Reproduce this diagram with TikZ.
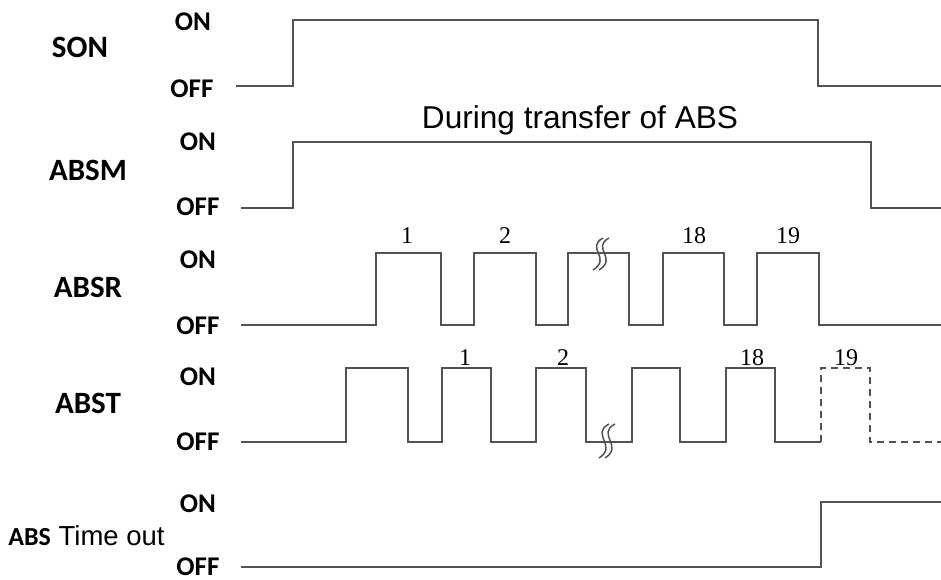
\documentclass[tikz,border=0pt]{standalone}
\usepackage{fontspec}
\setmainfont{Liberation Sans}
\newfontfamily\calfont{Carlito}
\newfontfamily\numfont{Liberation Serif}
\usetikzlibrary{positioning}
\definecolor{trazo}{rgb}{0.33,0.32,0.31}
\tikzset{
  senal/.style={
    draw=trazo,
    line width=0.7pt,
    line join=miter
  },
  punteada/.style={
    senal,
    dash pattern=on 3.5pt off 2.5pt
  },
  nombre/.style={
    font=\calfont\bfseries\fontsize{15.5}{18}\selectfont,
    anchor=base,
    inner sep=0pt
  },
  nivel/.style={
    font=\calfont\bfseries\fontsize{13.5}{16}\selectfont,
    anchor=base,
    inner sep=0pt
  },
  numero/.style={
    font=\numfont\fontsize{12}{14}\selectfont,
    anchor=base,
    inner sep=0pt
  },
  corte/.style={
    draw=trazo,
    line width=0.75pt
  }
}

\begin{document}
\begin{tikzpicture}[x=0.5pt,y=-0.5pt]
\useasboundingbox (0,0) rectangle (941,579);
% nombres de las senales
\node[nombre] (son) at (80,57) {SON};
\node[nombre] (absm) at (88,180) {ABSM};
\node[nombre] (absr) at (88,297) {ABSR};
\node[nombre] (abst) at (88,413) {ABST};
\node[anchor=base west,inner sep=0pt,font=\fontsize{13.75}{16}\selectfont] (tout) at (8,545)
  {{\calfont\bfseries\fontsize{13}{16}\selectfont ABS} Time out};
% niveles ON / OFF
\node[nivel] (son-on) at (193,30) {ON};
\node[nivel] (son-off) at (192,97) {OFF};
\node[nivel] (absm-on) at (198,150) {ON};
\node[nivel] (absm-off) at (198,215) {OFF};
\node[nivel] (absr-on) at (198,268) {ON};
\node[nivel] (absr-off) at (198,334) {OFF};
\node[nivel] (abst-on) at (198,385) {ON};
\node[nivel] (abst-off) at (198,450) {OFF};
\node[nivel] (tout-on) at (198,512) {ON};
\node[nivel] (tout-off) at (198,575) {OFF};
\node[anchor=base,inner sep=0pt,font=\fontsize{15.8}{18}\selectfont] (trans) at (580,128)
  {During transfer of ABS};
% SON
\draw[senal] (236,86) -- (293,86) -- (293,20) -- (818,20) -- (818,86) -- (941,86);
% ABSM
\draw[senal] (241,208) -- (293,208) -- (293,142) -- (871,142) -- (871,208) -- (941,208);
% ABSR
\draw[senal] (241,325) -- (376,325) -- (376,253) -- (441,253) -- (441,325)
  -- (474,325) -- (474,253) -- (536,253) -- (536,325)
  -- (568,325) -- (568,253) -- (629,253) -- (629,325)
  -- (663,325) -- (663,253) -- (724,253) -- (724,325)
  -- (757,325) -- (757,253) -- (819,253) -- (819,325) -- (941,325);
\node[numero] (r1) at (407,243) {1};
\node[numero] (r2) at (505,243) {2};
\node[numero] (r18) at (694,243) {18};
\node[numero] (r19) at (788,243) {19};
\foreach \dx in {0,6}
  \draw[corte] (603+\dx,238) .. controls (585+\dx,248) and (612+\dx,258) .. (593+\dx,270);
% ABST
\draw[senal] (241,442) -- (346,442) -- (346,368) -- (408,368) -- (408,442)
  -- (442,442) -- (442,368) -- (491,368) -- (491,442)
  -- (536,442) -- (536,368) -- (586,368) -- (586,442)
  -- (632,442) -- (632,368) -- (680,368) -- (680,442)
  -- (726,442) -- (726,368) -- (775,368) -- (775,442) -- (821,442);
\draw[punteada] (821,442) -- (821,368) -- (870,368) -- (870,442) -- (941,442);
\node[numero] (t1) at (465,365) {1};
\node[numero] (t2) at (563,365) {2};
\node[numero] (t18) at (752,365) {18};
\node[numero] (t19) at (846,365) {19};
\foreach \dx in {0,6}
  \draw[corte] (609+\dx,424) .. controls (590+\dx,434) and (618+\dx,446) .. (599+\dx,458);
% ABS Time out
\draw[senal] (241,567) -- (821,567) -- (821,502) -- (941,502);
\end{tikzpicture}
\end{document}
